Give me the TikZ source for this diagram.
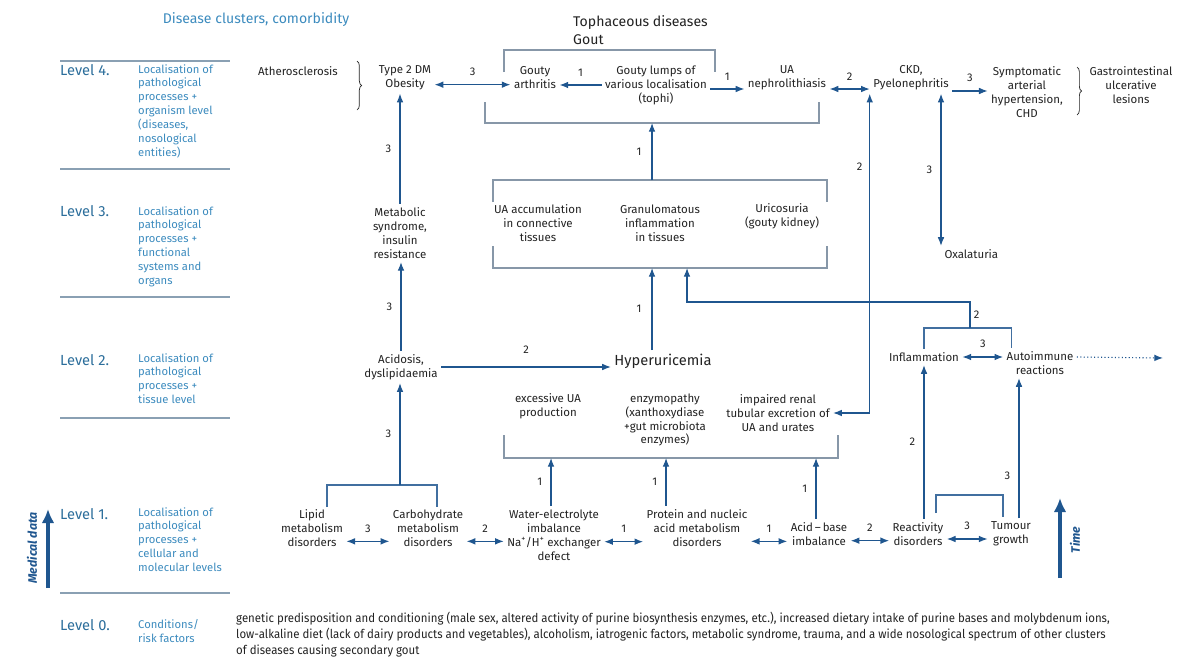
\documentclass[tikz,border=0pt]{standalone}
\usepackage{fontspec}
\setmainfont{Fira Sans}
\newfontfamily\narrowfont[FakeStretch=0.93]{Fira Sans}
\usepackage{xcolor}
\usepackage{tikz}
\usetikzlibrary{arrows.meta}
\usetikzlibrary{calc}
\usetikzlibrary{decorations.pathreplacing}
\definecolor{lvlblue}{HTML}{2C6E9B}
\definecolor{descblue}{HTML}{3C8BBE}
\definecolor{arrblue}{HTML}{1F568F}
\definecolor{linegray}{HTML}{8797A8}
\definecolor{sepgray}{HTML}{8AA0B3}
\definecolor{txt}{HTML}{222222}
\tikzset{
    ltip/.tip={Latex[length=2.6mm,width=2mm]},
    item/.style={align=center, inner sep=1mm, text=txt, font=\fontsize{9.8}{11.9}\selectfont},
    num/.style={inner sep=0pt, text=txt, font=\fontsize{9.5}{11}\selectfont},
    lvl/.style={anchor=north west, inner sep=0pt, text=lvlblue, font=\fontsize{12.5}{14}\selectfont},
    lvldesc/.style={anchor=north west, align=left, inner sep=0pt, text=descblue, font=\fontsize{9.6}{11.9}\selectfont},
    arr/.style={draw=arrblue, line width=0.95pt, -ltip},
    darr/.style={draw=arrblue, line width=0.95pt, ltip-ltip},
    link/.style={draw=arrblue!85, line width=0.95pt},
    frame/.style={draw=linegray, line width=1pt},
    sepline/.style={draw=sepgray, line width=1pt},
    bigarr/.style={draw=arrblue, line width=2.6pt, -{Latex[length=4.2mm,width=3.8mm]}},
    curly/.style={draw=txt, line width=0.6pt, decorate, decoration={brace, amplitude=4pt}}}

\begin{document}
\begin{tikzpicture}[x=0.3mm,y=-0.3mm]
\useasboundingbox (0,0) rectangle (1200,665);
\node[text=descblue, font=\fontsize{12}{14}\selectfont] (clusters) at (256,20) {Disease clusters, comorbidity};
\foreach \y in {61,169,297,418,593}
    \draw[sepline] (60,\y) -- (230,\y);
\node[lvl] (lv4) at (60,64) {Level 4.};
\node[lvldesc] (lv4d) at (138,64) {Localisation of\\pathological\\processes +\\organism level\\(diseases,\\nosological\\entities)};
\node[lvl] (lv3) at (60,205) {Level 3.};
\node[lvldesc] (lv3d) at (138,206) {Localisation of\\pathological\\processes +\\functional\\systems and\\organs};
\node[lvl] (lv2) at (60,354) {Level 2.};
\node[lvldesc] (lv2d) at (138,353) {Localisation of\\pathological\\processes +\\tissue level};
\node[lvl] (lv1) at (60,508) {Level 1.};
\node[lvldesc] (lv1d) at (138,507) {Localisation of\\pathological\\processes +\\cellular and\\molecular levels};
\node[lvl] (lv0) at (60,619) {Level 0.};
\node[lvldesc] (lv0d) at (138,619) {Conditions/\\risk factors};
\coordinate (md0) at (48,588);
\coordinate (md1) at (48,509);
\draw[bigarr] (md0) -- (md1);
\node[rotate=90, text=arrblue, font=\bfseries\itshape\fontsize{10.5}{12}\selectfont] (meddata) at (32,548) {Medical data};
% level 4
\node[item] (ather) at (298,71) {Atherosclerosis};
\draw[curly] (357,61) -- (357,110);
\node[item] (obesity) at (405,78) {Type 2 DM\\Obesity};
\node[anchor=west, align=left, inner sep=0pt, text=txt, font=\fontsize{12}{16}\selectfont] (tophus) at (573,30) {Tophaceous diseases\\Gout};
\draw[frame] (504,72) |- (715,50) -- (715,72);
\node[item] (arthr) at (535,78) {Gouty\\arthritis};
\node[item] (lumps) at (656,85) {Gouty lumps of\\various localisation\\(tophi)};
\node[item] (nephro) at (787,78) {UA\\nephrolithiasis};
\node[item] (ckd) at (911,78) {CKD,\\Pyelonephritis};
\node[item] (sympt) at (1027,92) {Symptomatic\\arterial\\hypertension,\\CHD};
\draw[curly] (1077,67) -- (1077,115);
\node[item] (gastro) at (1131,85) {Gastrointestinal\\ulcerative\\lesions};
\draw[frame] (485,102) |- (819,123) -- (819,102);
\coordinate (g4) at (652,123);
\draw[darr] ([yshift=-2mm]obesity.east) -- ([yshift=-2mm]obesity.east -| arthr.west) node[num,midway,above=2.5mm] {3};
\draw[arr] (lumps.west) -- (lumps.west -| arthr.east) node[num,midway,above=2.5mm] {1};
\draw[arr] ([yshift=-1.2mm]lumps.east) -- ([yshift=-1.2mm]lumps.east -| nephro.west) node[num,midway,above=2.5mm] {1};
\draw[darr] ([yshift=-3.3mm]nephro.east) -- ([yshift=-3.3mm]nephro.east -| ckd.west) node[num,midway,above=2.5mm] {2};
\draw[arr] ([yshift=-3.9mm]ckd.east) -- ([yshift=-3.9mm]ckd.east -| sympt.west) node[num,midway,above=2.5mm] {3};
% level 3
\node[item] (metab) at (400,233) {Metabolic\\syndrome,\\insulin\\resistance};
\node[item] (uaacc) at (538,223) {UA accumulation\\in connective\\tissues};
\node[item] (granul) at (660,223) {Granulomatous\\inflammation\\in tissues};
\node[item] (uricos) at (782,216) {Uricosuria\\(gouty kidney)};
\node[item, anchor=west] (oxal) at (941,254) {Oxalaturia};
\draw[frame] (493,202) |- (827,180) -- (827,202);
\draw[frame] (493,246) |- (827,268) -- (827,246);
\coordinate (g3t) at (652,180);
\coordinate (g3b) at (652,268);
\coordinate (g3r) at (687,268);
\draw[arr] (g3t) -- (g4) node[num,midway,left=3mm] {1};
\draw[arr] (metab.north) -- (metab.north |- obesity.south) node[num,midway,left=2.5mm] {3};
\draw[darr] (ckd.south -| oxal.west) -- (oxal.north west) node[num,midway,left=2.5mm] {3};
% level 2
\node[item] (acid) at (401,367) {Acidosis,\\dyslipidaemia};
\node[item, font=\fontsize{12.5}{15}\selectfont] (hyper) at (663,361) {Hyperuricemia};
\node[item] (excess) at (548,406) {excessive UA\\production};
\node[item] (enzym) at (665,420) {enzymopathy\\(xanthoxydiase\\+gut microbiota\\enzymes)};
\node[item] (renal) at (778,413) {impaired renal\\tubular excretion of\\UA and urates};
\node[item] (inflam) at (924,357) {Inflammation};
\node[item] (autoimm) at (1040,363) {Autoimmune\\reactions};
\draw[frame] (504,435) |- (838,458) -- (838,435);
\coordinate (g2a) at (551,458);
\coordinate (g2b) at (666,458);
\coordinate (g2c) at (816,458);
\coordinate (iab) at (970,328);
\coordinate (iup) at (970,302);
\coordinate (dotend) at (1163,358);
\draw[arr] (acid.north) -- (acid.north |- metab.south) node[num,midway,left=2.5mm] {3};
\draw[arr] (hyper.north -| g3b) -- (g3b) node[num,midway,left=3mm] {1};
\draw[arr] (acid.east) -- (acid.east -| hyper.west) node[num,midway,above=4mm] {2};
\draw[darr] (renal.east) -| (ckd.south west) node[num,pos=0.885,left=2mm] {2};
\draw[link] (inflam.north) |- (iab) -| ([xshift=2.5mm]autoimm.north west);
\draw[arr] (iab) -- node[num,right=1mm] {2} (iup) -| (g3r);
\draw[darr] (inflam.east) -- (inflam.east -| autoimm.west) node[num,midway,above=2.5mm] {3};
\draw[arr, dotted] (autoimm.east |- inflam.east) -- (dotend);
% level 1
\node[item] (lipid) at (312,528) {Lipid\\metabolism\\disorders};
\node[item] (carbo) at (428,528) {Carbohydrate\\metabolism\\disorders};
\node[item] (water) at (554,535) {Water-electrolyte\\imbalance\\Na\textsuperscript{+}/H\textsuperscript{+} exchanger\\defect};
\node[item] (protein) at (697,528) {Protein and nucleic\\acid metabolism\\disorders};
\node[item] (acidbase) at (819,534) {Acid\,--\,base\\imbalance};
\node[item] (react) at (918,534) {Reactivity\\disorders};
\node[item] (tumour) at (1011,534) {Tumour\\growth};
\coordinate (lcb) at (400,485);
\draw[link] (327,507) |- (437,485) -- (437,507);
\draw[link] (936,513) |- (1003,495) -- (1003,517);
\draw[arr] (lcb) -- (lcb |- acid.south) node[num,midway,left=2.5mm] {3};
\draw[arr] (water.north -| g2a) -- (g2a) node[num,midway,left=2.5mm] {1};
\draw[arr] (protein.north -| g2b) -- (g2b) node[num,midway,left=2.5mm] {1};
\draw[arr] (acidbase.north -| g2c) -- (g2c) node[num,midway,left=2.5mm] {1};
\draw[darr] ([yshift=-4mm]lipid.east) -- ([yshift=-4mm]lipid.east -| carbo.west) node[num,midway,above=2.5mm] {3};
\draw[darr] ([yshift=-4mm]carbo.east) -- ([yshift=-4mm]carbo.east -| water.west) node[num,midway,above=2.5mm] {2};
\draw[darr] ([yshift=-2mm]water.east) -- ([yshift=-2mm]water.east -| protein.west) node[num,midway,above=2.5mm] {1};
\draw[darr] ([yshift=-4mm]protein.east) -- ([yshift=-4mm]protein.east -| acidbase.west) node[num,midway,above=2.5mm] {1};
\draw[darr] ([yshift=-2mm]acidbase.east) -- ([yshift=-2mm]acidbase.east -| react.west) node[num,midway,above=2.5mm] {2};
\draw[darr] ([yshift=-1.5mm]react.east) -- ([yshift=-1.5mm]react.east -| tumour.west) node[num,midway,above=2.5mm] {3};
\draw[arr] (inflam.south |- react.north) -- (inflam.south) node[num,midway,left=2.5mm] {2};
\draw[arr] ([xshift=2.4mm]tumour.north) -- ([xshift=2.4mm]tumour.north |- autoimm.south) node[num,pos=0.3,left=2.5mm] {3};
\coordinate (t0) at (1060,578);
\coordinate (t1) at (1060,498);
\draw[bigarr] (t0) -- (t1);
\node[rotate=90, text=arrblue, font=\bfseries\itshape\fontsize{10.5}{12}\selectfont] (time) at (1075,540) {Time};
% level 0
\node[anchor=north west, align=left, inner sep=0pt, text=txt, font=\narrowfont\fontsize{10.5}{13.4}\selectfont] (risk) at (236,612) {genetic predisposition and conditioning (male sex, altered activity of purine biosynthesis enzymes, etc.), increased dietary intake of purine bases and molybdenum ions,\\low-alkaline diet (lack of dairy products and vegetables), alcoholism, iatrogenic factors, metabolic syndrome, trauma, and a wide nosological spectrum of other clusters\\of diseases causing secondary gout};
\end{tikzpicture}
\end{document}
